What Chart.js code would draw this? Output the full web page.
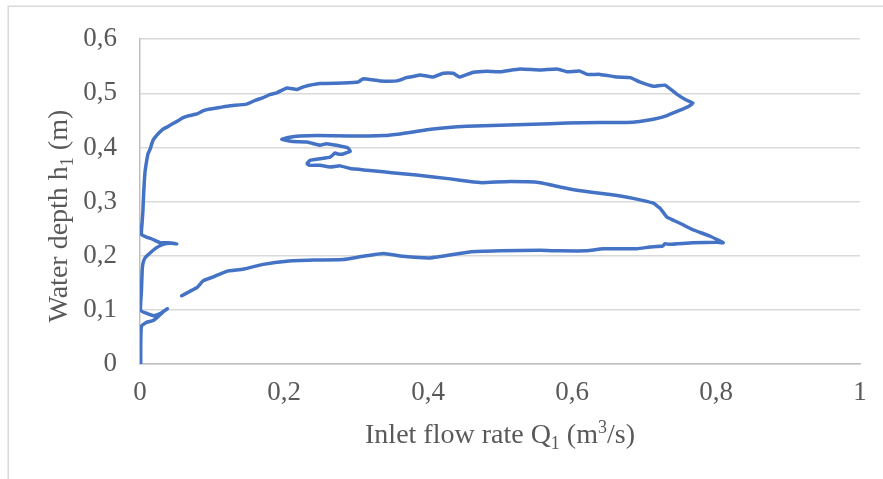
<!DOCTYPE html>
<html>
<head>
<meta charset="utf-8">
<script src="https://cdn.jsdelivr.net/npm/chart.js@4/dist/chart.umd.min.js"></script>
<style>
  html, body { margin: 0; padding: 0; background: #fff; }
  #wrap { width: 883px; height: 479px; position: relative; }
</style>
</head>
<body>
<div id="wrap"><canvas id="c" width="883" height="479"></canvas></div>
<script>
// Inlet flow rate Q1 (m3/s), in the order the record was taken
const flowRate = [
  0.001, 0.001, 0.002, 0.009, 0.018, 0.024, 0.031, 0.038, 0.028, 0.019,
  0.001, 0.002, 0.003, 0.004, 0.007, 0.014, 0.023, 0.032, 0.042, 0.051,
  0.039, 0.028, 0.018, 0.008, 0.002, 0.003, 0.004, 0.005, 0.006, 0.007,
  0.009, 0.011, 0.014, 0.018, 0.025, 0.032, 0.038, 0.044, 0.051, 0.060,
  0.069, 0.079, 0.088, 0.097, 0.111, 0.125, 0.148, 0.160, 0.171, 0.181,
  0.190, 0.204, 0.218, 0.227, 0.250, 0.282, 0.303, 0.310, 0.333, 0.357,
  0.370, 0.382, 0.389, 0.407, 0.421, 0.435, 0.444, 0.463, 0.482, 0.500,
  0.528, 0.556, 0.579, 0.593, 0.611, 0.621, 0.639, 0.663, 0.681, 0.694,
  0.713, 0.729, 0.746, 0.758, 0.768,
  0.761, 0.754, 0.732, 0.713, 0.694, 0.676, 0.639, 0.593, 0.546, 0.500,
  0.454, 0.407, 0.361, 0.338, 0.292, 0.246, 0.222, 0.208, 0.197,
  0.213, 0.232, 0.250, 0.259, 0.273, 0.289, 0.292, 0.282, 0.275, 0.271,
  0.264, 0.250, 0.236, 0.232, 0.236, 0.250, 0.264, 0.278, 0.292, 0.315,
  0.338, 0.361, 0.384, 0.431, 0.458, 0.475, 0.514, 0.556, 0.583, 0.607,
  0.653, 0.685, 0.713, 0.722, 0.729, 0.732, 0.750, 0.768, 0.792, 0.810,
  0.801, 0.768, 0.736, 0.729, 0.726, 0.708, 0.690, 0.667, 0.643, 0.620,
  0.583, 0.556, 0.500, 0.458, 0.403, 0.365, 0.338, 0.310, 0.282, 0.241,
  0.204, 0.171, 0.143, 0.120, 0.102, 0.088, 0.079, 0.069, 0.058
];

// Water depth h1 (m), paired with flowRate
const waterDepth = [
  0.000, 0.035, 0.070, 0.077, 0.080, 0.086, 0.095, 0.102, 0.093, 0.089,
  0.099, 0.135, 0.172, 0.185, 0.196, 0.205, 0.215, 0.221, 0.223, 0.222,
  0.224, 0.224, 0.230, 0.235, 0.239, 0.263, 0.282, 0.313, 0.337, 0.355,
  0.373, 0.388, 0.397, 0.413, 0.425, 0.434, 0.438, 0.443, 0.448, 0.455,
  0.459, 0.462, 0.468, 0.471, 0.474, 0.477, 0.480, 0.487, 0.492, 0.498,
  0.501, 0.510, 0.507, 0.512, 0.518, 0.519, 0.521, 0.527, 0.523, 0.523,
  0.529, 0.532, 0.534, 0.530, 0.537, 0.537, 0.530, 0.539, 0.541, 0.540,
  0.545, 0.543, 0.545, 0.540, 0.541, 0.535, 0.535, 0.530, 0.529, 0.521,
  0.513, 0.515, 0.498, 0.488, 0.482,
  0.475, 0.471, 0.459, 0.452, 0.448, 0.446, 0.446, 0.445, 0.443, 0.441,
  0.439, 0.434, 0.425, 0.422, 0.421, 0.422, 0.421, 0.419, 0.415,
  0.411, 0.410, 0.404, 0.407, 0.404, 0.399, 0.393, 0.388, 0.388, 0.390,
  0.382, 0.379, 0.376, 0.370, 0.367, 0.367, 0.364, 0.366, 0.361, 0.358,
  0.355, 0.352, 0.349, 0.342, 0.337, 0.335, 0.337, 0.335, 0.327, 0.321,
  0.313, 0.306, 0.297, 0.288, 0.276, 0.271, 0.260, 0.248, 0.236, 0.224,
  0.225, 0.224, 0.221, 0.222, 0.218, 0.216, 0.213, 0.213, 0.213, 0.209,
  0.209, 0.210, 0.209, 0.207, 0.196, 0.199, 0.204, 0.199, 0.193, 0.192,
  0.190, 0.184, 0.175, 0.171, 0.161, 0.154, 0.141, 0.134, 0.126
];

const xTickValues = [0, 0.2, 0.4, 0.6, 0.8, 1];
const yTickValues = [0, 0.1, 0.2, 0.3, 0.4, 0.5, 0.6];

// Axis titles with sub/superscript runs: [text, kind]
const xTitleParts = [['Inlet flow rate Q', 'n'], ['1', 'sub'], [' (m', 'n'], ['3', 'sup'], ['/s)', 'n']];
const yTitleParts = [['Water depth h', 'n'], ['1', 'sub'], [' (m)', 'n']];

const FONT_FAMILY = "'Liberation Serif', 'Times New Roman', serif";
const TEXT_GREY = '#595959';
const TITLE_SIZE = 28;
const TICK_SIZE = 27;

const points = flowRate.map((q, i) => ({ x: q, y: waterDepth[i] }));

const decimalComma = v => String(+Number(v).toFixed(1)).replace('.', ',');

function partFont(kind) {
  const size = kind === 'n' ? TITLE_SIZE : Math.round(TITLE_SIZE * 0.65);
  return size + 'px ' + FONT_FAMILY;
}
function partShift(kind) {
  if (kind === 'sub') return TITLE_SIZE * 0.22;
  if (kind === 'sup') return -TITLE_SIZE * 0.34;
  return 0;
}
// Draws a run of text centred on (0,0) with its baseline on y = 0
function drawRich(ctx, parts) {
  let total = 0;
  const widths = parts.map(([t, k]) => { ctx.font = partFont(k); const w = ctx.measureText(t).width; total += w; return w; });
  let x = -total / 2;
  parts.forEach(([t, k], i) => {
    ctx.font = partFont(k);
    ctx.fillText(t, x, partShift(k));
    x += widths[i];
  });
}

const decorations = {
  id: 'decorations',
  beforeDraw(chart) {
    const ctx = chart.ctx;
    ctx.save();
    ctx.fillStyle = '#ffffff';
    ctx.fillRect(0, 0, chart.width, chart.height);
    ctx.strokeStyle = '#d9d9d9';
    ctx.lineWidth = 1.5;
    ctx.strokeRect(8.25, 6.25, 1000, 1000);
    ctx.restore();
  },
  afterDraw(chart) {
    const ctx = chart.ctx;
    const area = chart.chartArea;
    ctx.save();
    ctx.fillStyle = TEXT_GREY;
    ctx.textAlign = 'left';
    ctx.textBaseline = 'alphabetic';
    // x-axis title
    ctx.save();
    ctx.translate((area.left + area.right) / 2, area.bottom + 79);
    drawRich(ctx, xTitleParts);
    ctx.restore();
    // y-axis title, rotated
    ctx.save();
    ctx.translate(area.left - 73.5, (area.top + area.bottom) / 2 + 14.5);
    ctx.rotate(-Math.PI / 2);
    drawRich(ctx, yTitleParts);
    ctx.restore();
    ctx.restore();
  }
};

new Chart(document.getElementById('c'), {
  type: 'scatter',
  data: {
    datasets: [{
      data: points,
      showLine: true,
      borderColor: '#4472C4',
      backgroundColor: '#4472C4',
      borderWidth: 3.5,
      pointRadius: 0,
      pointHoverRadius: 0,
      tension: 0.12,
      borderJoinStyle: 'round',
      borderCapStyle: 'round'
    }]
  },
  options: {
    responsive: false,
    animation: false,
    devicePixelRatio: 1,
    layout: { padding: { left: 0, top: 36, right: 23, bottom: 0 } },
    plugins: { legend: { display: false }, tooltip: { enabled: false } },
    scales: {
      x: {
        type: 'linear',
        min: 0, max: 1,
        afterBuildTicks: s => { s.ticks = xTickValues.map(v => ({ value: v })); },
        afterFit: s => { s.height = 115; },
        ticks: {
          callback: v => decimalComma(v),
          color: TEXT_GREY,
          font: { family: FONT_FAMILY, size: TICK_SIZE },
          padding: 13,
          maxRotation: 0
        },
        grid: { display: false, drawTicks: false },
        border: { display: true, color: '#bfbfbf', width: 1.5 }
      },
      y: {
        type: 'linear',
        min: 0, max: 0.6,
        afterBuildTicks: s => { s.ticks = yTickValues.map(v => ({ value: v })); },
        afterFit: s => { s.width = 140; },
        ticks: {
          callback: v => decimalComma(v),
          color: TEXT_GREY,
          font: { family: FONT_FAMILY, size: TICK_SIZE },
          padding: 23
        },
        grid: { color: '#d9d9d9', lineWidth: 1.5, drawTicks: false },
        border: { display: true, color: '#bfbfbf', width: 1.5 }
      }
    }
  },
  plugins: [decorations]
});
</script>
</body>
</html>
